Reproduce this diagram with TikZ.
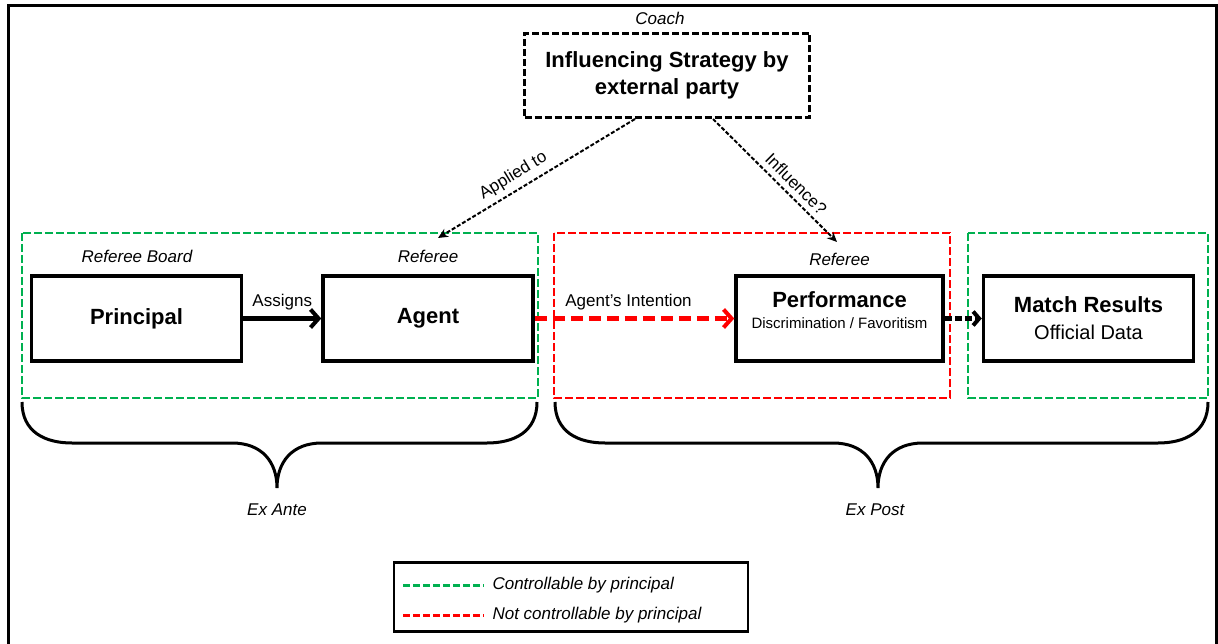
\documentclass[tikz,border=0pt]{standalone}
\usepackage{fontspec}
\setmainfont{Liberation Sans}
\usepackage{xcolor}
\usepackage{tikz}
\usetikzlibrary{arrows.meta, positioning, calc}
\definecolor{ctrlgreen}{RGB}{0,176,80}
\definecolor{nctrlred}{RGB}{255,0,0}

\begin{document}
\begin{tikzpicture}[
    x=1pt, y=-1pt,
    mainbox/.style={draw, line width=3.5pt, minimum width=210pt, minimum height=85pt, align=center, inner sep=0pt, font=\fontsize{22}{26}\selectfont\bfseries},
    strategy/.style={draw, line width=3pt, dash pattern=on 7pt off 3pt, minimum width=285pt, minimum height=84pt, align=center, font=\fontsize{22}{27}\selectfont\bfseries},
    role/.style={font=\fontsize{17}{20}\selectfont\itshape},
    tag/.style={font=\fontsize{17}{20}\selectfont},
    greenzone/.style={draw=ctrlgreen, line width=2.5pt, dash pattern=on 8pt off 3pt},
    redzone/.style={draw=nctrlred, line width=2.5pt, dash pattern=on 8pt off 3pt},
    hint/.style={line width=2pt, dash pattern=on 4pt off 2pt, -{Stealth[length=10pt, width=9pt]}},
    assign/.style={line width=4pt, -{Straight Barb[length=8pt, width=18pt]}},
    intent/.style={draw=nctrlred, line width=4pt, dash pattern=on 12pt off 6pt, -{Straight Barb[length=8pt, width=18pt]}},
    result/.style={line width=4pt, dash pattern=on 7pt off 3pt, -{Straight Barb[length=6pt, width=14pt]}},
    brace/.style={line width=3pt}
]
    \useasboundingbox (0,0) rectangle (1218,644);
    \draw[line width=3pt] (8,644) -- (8,6) -- (1216.5,6) -- (1216.5,644);

    % External party
    \node[role] (coach) at (660,18) {Coach};
    \node[strategy] (infl) at (667,75.5) {Influencing Strategy by\\external party};

    % Zones
    \draw[greenzone] (22,233) rectangle (538,398);
    \draw[redzone] (554,233) rectangle (950,398);
    \draw[greenzone] (968,233) rectangle (1208,398);

    % Actors
    \node[mainbox] (principal) at (136.5,318.5) {Principal};
    \node[mainbox] (agent) at (428,318.5) {Agent};
    \node[mainbox, minimum width=207pt] (perf) at (839.5,318.5) {};
    \node[font=\fontsize{22}{26}\selectfont\bfseries] (perftitle) at (839.5,300) {Performance};
    \node[font=\fontsize{15}{17}\selectfont] (perfsub) at (839.5,323) {Discrimination / Favoritism};
    \node[mainbox] (match) at (1088.5,318.5) {Match Results\\[1pt]{\fontsize{20}{24}\selectfont\mdseries Official Data}};

    \node[role] (board) at (137,256) {Referee Board};
    \node[role] (refa) at (428,256) {Referee};
    \node[role] (refb) at (839.5,259) {Referee};

    % Relationships
    \coordinate (applyend) at (438,238);
    \coordinate (inflend) at (837,242);
    \draw[hint] ($(infl.south)+(-32,0)$) -- (applyend) node[tag, sloped, above=2pt, pos=0.58] {Applied to};
    \draw[hint] ($(infl.south)+(46,0)$) -- (inflend) node[tag, sloped, above=2pt, pos=0.6] {Influence?};
    \draw[assign] (principal) -- (agent) node[tag, midway, above=3pt] {Assigns};
    \draw[intent] (agent) -- (perf) node[tag, pos=0.47, above=3pt, text=black] {Agent's Intention};
    \draw[result] (perf) -- (match);

    % Braces
    \draw[brace] (22,402) .. controls (22,432) and (45,443) .. (72,443) -- (232,443)
        .. controls (262,443) and (277,462) .. (277,488)
        .. controls (277,462) and (292,443) .. (322,443) -- (487,443)
        .. controls (514,443) and (537,432) .. (537,402);
    \draw[brace] (555,402) .. controls (555,432) and (578,443) .. (605,443) -- (833,443)
        .. controls (863,443) and (878,462) .. (878,488)
        .. controls (878,462) and (893,443) .. (923,443) -- (1158,443)
        .. controls (1185,443) and (1208,432) .. (1208,402);
    \node[role] (exante) at (277,510) {Ex Ante};
    \node[role] (expost) at (875,510) {Ex Post};

    % Legend
    \node[draw, line width=2.5pt, minimum width=354pt, minimum height=69pt] (legend) at (571,597) {};
    \draw[greenzone, line width=3pt, dash pattern=on 7pt off 3pt] (403,585) -- (484,585);
    \node[role, anchor=west] (ctrltext) at (489,585) {Controllable by principal};
    \draw[redzone, line width=3pt, dash pattern=on 7pt off 3pt] (403,615) -- (484,615);
    \node[role, anchor=west] (nctrltext) at (489,615) {Not controllable by principal};
\end{tikzpicture}
\end{document}
